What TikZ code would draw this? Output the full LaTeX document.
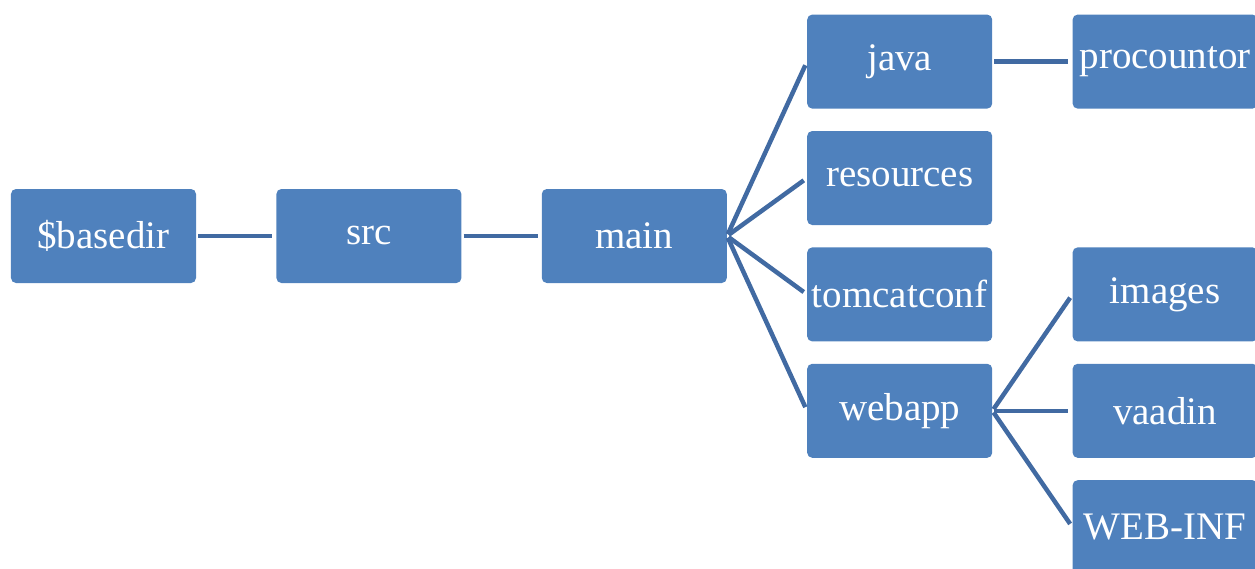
\documentclass[tikz,border=0pt]{standalone}
\usepackage{fontspec}
\setmainfont{Liberation Serif}
\usetikzlibrary{positioning}

\definecolor{boxblue}{RGB}{79,129,189}
\definecolor{linkblue}{RGB}{65,106,162}

\begin{document}
\begin{tikzpicture}[
    node distance=22pt and 80pt,
    box/.style={rectangle, fill=boxblue, text=white, rounded corners=5pt,
        minimum width=185pt, minimum height=94pt, inner sep=0pt,
        font=\fontsize{39}{44}\selectfont},
    link/.style={draw=linkblue, line width=4.5pt, shorten <=2pt, shorten >=4pt}
]

% Frame (basedir sits at the origin)
\useasboundingbox (-103.5pt,236pt) rectangle ++(1255pt,-568pt);

% Nodes
\node[box] (basedir) at (0,0) {\$basedir};
\node[box, right=of basedir] (src) {src};
\node[box, right=of src] (main) {main};

\node[box, right=of main, yshift=58pt] (resources) {resources};
\node[box, above=of resources] (java) {java};
\node[box, below=of resources] (tomcatconf) {tomcatconf};
\node[box, below=of tomcatconf] (webapp) {webapp};

\node[box, right=of java] (procountor) {procountor};
\node[box, right=of tomcatconf] (images) {images};
\node[box, right=of webapp] (vaadin) {vaadin};
\node[box, below=of vaadin] (webinf) {WEB-INF};

% Connectors
\draw[link] (basedir) -- (src);
\draw[link] (src) -- (main);
\draw[link] (main.east) -- (java.west);
\draw[link] (main.east) -- (resources.west);
\draw[link] (main.east) -- (tomcatconf.west);
\draw[link] (main.east) -- (webapp.west);
\draw[link] (java) -- (procountor);
\draw[link] (webapp.east) -- (images.west);
\draw[link] (webapp.east) -- (vaadin.west);
\draw[link] (webapp.east) -- (webinf.west);

\end{tikzpicture}
\end{document}
